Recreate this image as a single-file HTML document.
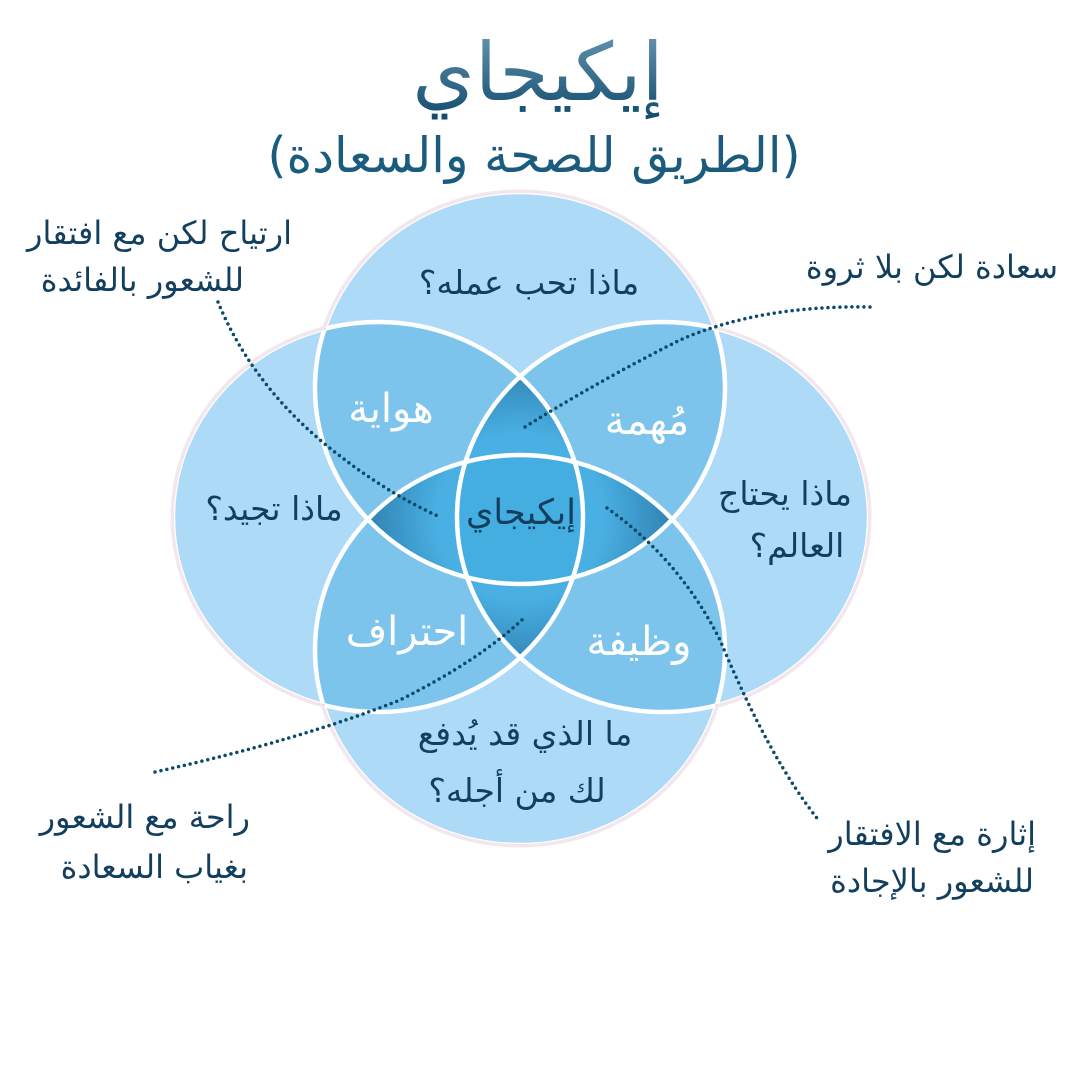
<!DOCTYPE html>
<html><head><meta charset="utf-8"><style>
html,body{margin:0;padding:0;background:#fff;}
svg{display:block;}
text{font-family:"DejaVu Sans","Liberation Sans",sans-serif;}
</style></head><body>
<svg width="1080" height="1080" viewBox="0 0 1080 1080" xmlns="http://www.w3.org/2000/svg">
<defs>
<linearGradient id="tg" x1="0" y1="0" x2="0" y2="1"><stop offset="0" stop-color="#6a9ab5"/><stop offset="1" stop-color="#104a6c"/></linearGradient>
<radialGradient id="rg" cx="520" cy="517" r="165" gradientUnits="userSpaceOnUse">
<stop offset="0.5" stop-color="#4ab0e3"/><stop offset="1" stop-color="#2b7aaa"/></radialGradient>
<clipPath id="cT"><ellipse cx="520" cy="388" rx="205" ry="196"/></clipPath>
<clipPath id="cB"><ellipse cx="520" cy="650" rx="205" ry="195"/></clipPath>
<clipPath id="cL"><ellipse cx="378" cy="517" rx="205" ry="195"/></clipPath>
<clipPath id="cR"><ellipse cx="663" cy="517" rx="206" ry="195"/></clipPath>
<clipPath id="cU"><ellipse cx="520" cy="388" rx="204" ry="195"/><ellipse cx="520" cy="650" rx="204" ry="194"/><ellipse cx="378" cy="517" rx="204" ry="194"/><ellipse cx="663" cy="517" rx="205" ry="194"/></clipPath>
</defs>
<text x="538" y="100" text-anchor="middle" font-size="80" fill="url(#tg)">إيكيجاي</text>
<text x="534" y="172" text-anchor="middle" font-size="49" fill="#1b5b7e">(الطريق للصحة والسعادة)</text>

<g stroke="#f3e6ec" stroke-width="5" fill="#acdaf7">
<ellipse cx="520" cy="388" rx="205" ry="196"/><ellipse cx="520" cy="650" rx="205" ry="195"/><ellipse cx="378" cy="517" rx="205" ry="195"/><ellipse cx="663" cy="517" rx="206" ry="195"/>
</g>
<g fill="#acdaf7">
<ellipse cx="520" cy="388" rx="203" ry="194"/><ellipse cx="520" cy="650" rx="203" ry="193"/><ellipse cx="378" cy="517" rx="203" ry="193"/><ellipse cx="663" cy="517" rx="204" ry="193"/>
</g>
<g fill="#7dc4ec">
<g clip-path="url(#cT)"><ellipse cx="378" cy="517" rx="205" ry="195"/><ellipse cx="663" cy="517" rx="206" ry="195"/></g>
<g clip-path="url(#cB)"><ellipse cx="378" cy="517" rx="205" ry="195"/><ellipse cx="663" cy="517" rx="206" ry="195"/></g>
<g clip-path="url(#cL)"><ellipse cx="663" cy="517" rx="206" ry="195"/></g>
</g>
<g fill="url(#rg)">
<g clip-path="url(#cL)"><g clip-path="url(#cR)"><ellipse cx="520" cy="388" rx="205" ry="196"/><ellipse cx="520" cy="650" rx="205" ry="195"/></g></g>
<g clip-path="url(#cT)"><g clip-path="url(#cB)"><ellipse cx="378" cy="517" rx="205" ry="195"/><ellipse cx="663" cy="517" rx="206" ry="195"/></g></g>
</g>
<g clip-path="url(#cT)"><g clip-path="url(#cB)"><g clip-path="url(#cL)"><ellipse cx="663" cy="517" rx="206" ry="195" fill="#45aee1"/></g></g></g>
<g clip-path="url(#cU)" stroke="#fff" stroke-width="4.5" fill="none">
<ellipse cx="520" cy="388" rx="205" ry="196"/><ellipse cx="520" cy="650" rx="205" ry="195"/><ellipse cx="378" cy="517" rx="205" ry="195"/><ellipse cx="663" cy="517" rx="206" ry="195"/>
</g>

<g font-size="40" fill="#fff" text-anchor="middle">
<text x="391" y="422">هواية</text>
<text x="647" y="434">مُهمة</text>
<text x="407" y="645">احتراف</text>
<text x="639" y="655">وظيفة</text>
</g>
<g font-size="33" fill="#113f5d" text-anchor="middle">
<text x="521" y="524" font-size="35">إيكيجاي</text>
<text x="529" y="294">ماذا تحب عمله؟</text>
<text x="274" y="520">ماذا تجيد؟</text>
<text x="785" y="505">ماذا يحتاج</text>
<text x="797" y="557">العالم؟</text>
<text x="525" y="745">ما الذي قد يُدفع</text>
<text x="517" y="802">لك من أجله؟</text>
</g>
<g font-size="32" fill="#113f5d" text-anchor="end">
<text x="292" y="244">ارتياح لكن مع افتقار</text>
<text x="244" y="291">للشعور بالفائدة</text>
<text x="1058" y="278">سعادة لكن بلا ثروة</text>
<text x="250" y="828">راحة مع الشعور</text>
<text x="248" y="878">بغياب السعادة</text>
<text x="1036" y="845">إثارة مع الافتقار</text>
<text x="1034" y="892">للشعور بالإجادة</text>
</g>
<g fill="none" stroke="#0c4a6a" stroke-width="3.5" stroke-linecap="round" stroke-dasharray="0 6">
<path d="M218 302 Q250 380 320 440 Q380 490 440 517"/>
<path d="M870 307 Q760 305 680 340 Q600 380 520 430"/>
<path d="M155 772 Q300 740 400 700 Q480 660 525 617"/>
<path d="M607 508 Q680 560 720 640 Q770 760 820 822"/>
</g>
</svg>
</body></html>
